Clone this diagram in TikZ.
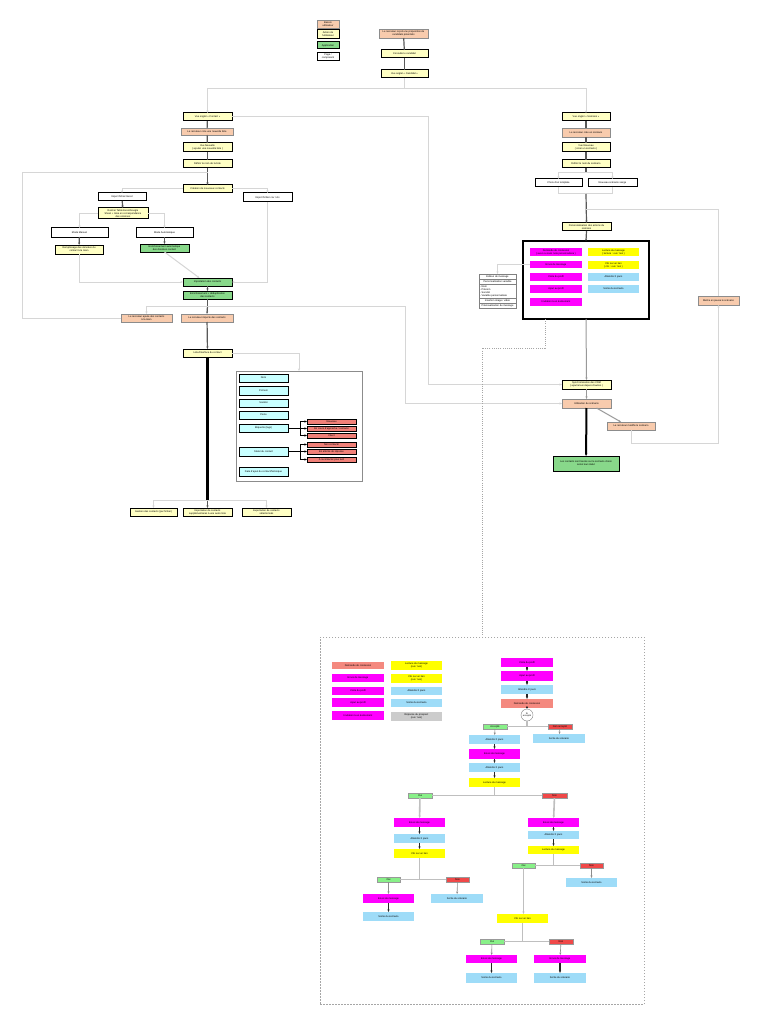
\documentclass[tikz,border=0pt]{standalone}
\usepackage{fontspec}
\setmainfont{Liberation Sans}
\usetikzlibrary{arrows.meta,calc}
\definecolor{cOr}{HTML}{F8CBAD}
\definecolor{cYl}{HTML}{FFFFC4}
\definecolor{cGr}{HTML}{88D88A}
\definecolor{cCy}{HTML}{C8FFFF}
\definecolor{cRd}{HTML}{F08078}
\definecolor{cMg}{HTML}{FF00FF}
\definecolor{cYb}{HTML}{FFFF00}
\definecolor{cBl}{HTML}{9EDCF8}
\definecolor{cSa}{HTML}{F4897F}
\definecolor{cGy}{HTML}{CCCCCC}
\definecolor{cOk}{HTML}{88F088}
\definecolor{cNo}{HTML}{F04848}
\newcommand{\B}[7]{%
 \pgfmathsetmacro\mybw{#5-#3}\pgfmathsetmacro\mybh{#6-#4}%
 \pgfmathsetmacro\mybx{(#3+#5)/2}\pgfmathsetmacro\myby{(#4+#6)/2}%
 \node[#2,minimum width=\mybw pt,minimum height=\mybh pt] (#1) at (\mybx,\myby) {#7};}
\tikzset{
 box/.style={inner sep=0pt,outer sep=0pt,align=center,font=\fontsize{2.5}{3}\selectfont},
 ob/.style={box,fill=cOr,draw=black!45,line width=0.8},
 yb/.style={box,fill=cYl,draw=black,line width=1},
 gb/.style={box,fill=cGr,draw=black,line width=1},
 wb/.style={box,fill=white,draw=black,line width=1},
 cb/.style={box,fill=cCy,draw=black,line width=1},
 rb/.style={box,fill=cRd,draw=black,line width=1},
 mb/.style={box,fill=cMg},
 ybb/.style={box,fill=cYb},
 bb/.style={box,fill=cBl},
 sb/.style={box,fill=cSa},
 gyb/.style={box,fill=cGy},
 okb/.style={box,fill=cOk,draw=black!40,line width=0.8},
 nob/.style={box,fill=cNo,draw=black!40,line width=0.8},
 edb/.style={box,fill=white,draw=black!50,line width=0.5},
 framebox/.style={box,draw=black!45,line width=1},
 bigframe/.style={box,draw=black,line width=1.3},
 dframe/.style={box,draw=black!35,line width=0.6,dash pattern=on 1.5pt off 1.5pt},
 con/.style={draw=black!65,line width=1.2},
 lcon/.style={draw=black!16,line width=1},
 gcon/.style={draw=black!25,line width=1.6},
 tcon/.style={draw=black,line width=0.6},
 bcon/.style={draw=black!85,line width=1.2},
 blk/.style={draw=black,line width=2.5},
 dcon/.style={draw=black!35,line width=0.6,dash pattern=on 1pt off 1.2pt},
 arr/.style={-{Stealth[length=2.5pt,width=2pt]}},
}
\begin{document}
\begin{tikzpicture}[x=1pt,y=-1pt]
\fill[white] (0,0) rectangle (768,1024);
\useasboundingbox (0,0) rectangle (768,1024);

% legend
\B{lg1}{ob}{317}{20}{339}{28}{Besoin\\utilisateur}
\B{lg2}{yb}{317}{30}{339}{39}{Action de\\l'utilisateur}
\B{lg3}{gb}{317}{42}{339}{49}{Application}
\B{lg4}{wb,line width=0.8}{317}{52}{339}{60}{Page /\\composant}

% top chain
\B{t1}{ob}{379}{29}{428}{38}{Le recruteur reçoit une proposition de\\candidats potentiels}
\B{t2}{yb}{381}{50}{428}{58}{Consulte le candidat}
\B{t3}{yb}{381}{70}{428}{78}{Vue onglet « Candidat »}
\coordinate (j0) at (404.5,89);
\draw[con] (t1) -- (t2);
\draw[con] (t2) -- (t3);
\draw[lcon] (t3) -- (j0);

% left chain
\B{L1}{yb}{183}{113}{232}{121}{Vue onglet « Contact »}
\B{L2}{ob}{181}{128}{233}{135}{Le recruteur crée une nouvelle liste}
\B{L3}{yb}{183}{143}{232}{152}{Vue Nouvelle\\( ajouter une nouvelle liste )}
\B{L4}{yb}{183}{160}{232}{168}{Définir le nom de la liste}
\B{L5}{yb}{183}{185}{232}{193}{Création de nouveaux contacts}
\B{W1}{wb}{98}{193}{146}{201}{Import fichier Excel}
\B{W2}{wb}{243}{193}{292}{202}{Import fichier csv / xls}
\B{Y1}{yb}{98}{208}{148}{219}{Rentrer Table Excel/Google\\Sheet + mise en correspondance\\des colonnes}
\B{M1}{wb}{51}{228}{108}{237}{Mode Manuel}
\B{M2}{wb}{136}{228}{193}{237}{Mode Automatique}
\B{Y2}{yb}{55}{245}{103}{254}{Remplissage des données du\\contact à la main}
\B{G0}{gb}{140}{244}{189}{252}{Enrichissement automatique\\des données contact}
\B{G1}{gb}{183}{278}{232}{286}{Importation des contacts}
\B{G2}{gb}{183}{291}{232}{299}{Enrichissement + déduplication\\des contacts}
\B{O1}{ob}{121}{314}{172}{322}{Le recruteur ajoute des contacts\\à la main}
\B{O2}{ob}{181}{314}{233}{322}{Le recruteur importe des contacts}
\B{LI}{yb}{183}{349}{232}{357}{Liste/Interface du contact}
\B{FR}{framebox}{236}{371}{362}{481}{}
\B{C1}{cb}{239}{374}{288}{382}{Nom}
\B{C2}{cb}{239}{386}{288}{395}{Prénom}
\B{C3}{cb}{239}{399}{288}{407}{Société}
\B{C4}{cb}{239}{411}{288}{419}{Poste}
\B{C5}{cb}{239}{424}{288}{432}{Étiquette (tags)}
\B{C6}{cb}{239}{447}{288}{456}{Statut du contact}
\B{C7}{cb}{239}{467}{288}{476}{Date d'ajout du contact/historique}
\B{Rd1}{rb}{307}{419}{356}{424}{Nouveau}
\B{Rd2}{rb}{307}{426}{356}{431}{En cours d'approche / contacté}
\B{Rd3}{rb}{307}{433}{356}{438}{Client}
\B{Rd4}{rb}{307}{442}{356}{447}{Non contacté}
\B{Rd5}{rb}{307}{449}{356}{454}{En attente de réponse}
\B{Rd6}{rb}{307}{457}{356}{462}{A recontacter plus tard}
\B{B1}{yb}{130}{508}{177}{516}{Gestion des contacts (par fichier)}
\B{B2}{yb}{183}{508}{232}{516}{Importation de contacts\\supplémentaires à une autre liste}
\B{B3}{yb}{242}{508}{291}{516}{Exportation de contacts\\sélectionnés}

\draw[lcon,arr] (j0) -| (L1.north);
\draw[con] (L1) -- (L2);
\draw[con] (L2) -- (L3);
\draw[con] (L3) -- (L4);
\coordinate (j1) at (207.5,173);
\coordinate (lp) at (22,173);
\draw[con,arr] (L4.south) -- (L5.north);
\draw[lcon] (O1.west) -| (lp) -- (j1);
\draw[lcon,arr] (L5.west) -| (W1.north);
\draw[lcon,arr] (L5.east) -| (W2.north);
\draw[con,arr] (W1) -- (Y1);
\draw[lcon,arr] (Y1.west) -| (M1.north);
\draw[lcon,arr] (Y1.east) -| (M2.north);
\draw[con,arr] (M1) -- (Y2);
\draw[con,arr] (M2) -- (G0);
\draw[lcon,arr] (Y2.south) |- (G1.west);
\draw[lcon,arr] (G0.south) -- ($(G1.north)+(-8,0)$);
\draw[lcon,arr] (W2.south) |- (G1.east);
\draw[con,arr] (G1) -- (G2);
\coordinate (j2) at (207.5,306);
\coordinate (j3) at (405,306);
\draw[con] (G2.south) -- (j2);
\draw[con,arr] (j2) -- (O2.north);
\draw[lcon,arr] (j2) -| (O1.north);
\draw[con,arr] (O2) -- (LI);
\draw[lcon,arr] (LI.east) -| (FR.north);
\coordinate (j4) at (207.5,500);
\draw[blk] (LI.south) -- (j4);
\draw[con,arr] (j4) -- (B2.north);
\draw[lcon,arr] (j4) -| (B1.north);
\draw[lcon,arr] (j4) -| (B3.north);
\coordinate (k1) at (300,428);
\coordinate (k2) at (300,451.5);
\draw[tcon] (C5.east) -- (k1);
\draw[tcon,arr] (k1) |- (Rd1.west);
\draw[tcon,arr] (k1) |- (Rd2.west);
\draw[tcon,arr] (k1) |- (Rd3.west);
\draw[tcon] (C6.east) -- (k2);
\draw[tcon,arr] (k2) |- (Rd4.west);
\draw[tcon,arr] (k2) |- (Rd5.west);
\draw[tcon,arr] (k2) |- (Rd6.west);

% right chain
\B{R1}{yb}{562}{113}{610}{121}{Vue onglet « Scénario »}
\B{R2}{ob}{562}{128}{610}{137}{Le recruteur crée un scénario}
\B{R3}{yb}{562}{143}{610}{152}{Vue Nouveau\\( créer un scénario )}
\B{R4}{yb}{562}{160}{610}{168}{Définir le nom du scénario}
\B{S1}{wb}{535}{179}{582}{187}{Choix d'un template}
\B{S2}{wb}{588}{179}{637}{187}{Nouveau scénario vierge}
\B{P}{yb}{562}{223}{611}{231}{Personnalisation des actions du\\scénario}
\B{FRR}{bigframe}{523}{241}{649}{319}{}
\B{MG1}{mb}{530}{248}{582}{256}{Demande de connexion\\( avec ou sans note personnalisée )}
\B{MG2}{mb}{530}{261}{582}{268}{Envoi de message}
\B{MG3}{mb}{530}{273}{582}{281}{Visite du profil}
\B{MG4}{mb}{530}{285}{582}{293}{Ajout au profil}
\B{MG5}{mb}{530}{298}{582}{306}{Invitation à un événement}
\B{YW1}{ybb}{588}{248}{639}{256}{Lecture du message\\( lecture : oui / non )}
\B{YW2}{ybb}{588}{261}{639}{269}{Clic sur un lien\\( clic : oui / non )}
\B{BL1}{bb}{588}{273}{639}{281}{Attendre X jours}
\B{BL2}{bb}{588}{285}{639}{293}{Sortie du scénario}
\B{ED1}{edb}{479}{274}{516}{279}{Éditeur de message}
\B{ED2}{edb}{479}{279}{516}{284}{Personnalisation variable}
\B{ED3}{edb,align=left,text width=35pt}{479}{284}{516}{298}{- Nom\\- Prénom\\- Société\\- Variable personnalisée}
\B{ED4}{edb}{479}{298}{516}{303}{Insertion image / vidéo}
\B{ED5}{edb}{479}{303}{516}{308}{Prévisualisation du message}
\B{CRM}{yb}{562}{380}{611}{389}{Synchronisation des CRM\\( ajout/envoi depuis d'autres )}
\B{U}{ob}{562}{399}{611}{408}{Utilisation du scénario}
\B{MOD}{ob}{607}{422}{655}{430}{Le recruteur modifie le scénario}
\B{GF}{gb}{553}{456}{619}{471}{Les contacts sont lancés sur le scénario choisi\\selon leur statut}
\B{PA}{ob}{698}{296}{739}{305}{Mettre en pause le scénario}

\draw[lcon,arr] (j0) -| (R1.north);
\draw[con] (R1) -- (R2);
\draw[con] (R2) -- (R3);
\draw[con] (R3) -- (R4);
\coordinate (j5) at (586,173);
\coordinate (j6) at (586,194);
\coordinate (j7) at (586,210);
\draw[con] (R4.south) -- (j5);
\draw[lcon,arr] (j5) -| (S1.north);
\draw[lcon,arr] (j5) -| (S2.north);
\draw[lcon] (S1.south) |- (j6);
\draw[lcon] (S2.south) |- (j6);
\draw[con,arr] (j6) -- (P.north);
\draw[lcon] (PA.north) |- (j7);
\draw[con,arr] (P.south) -- (FRR.north);
\draw[lcon,arr] (MG2.west) -| (ED1.north);
\draw[con,draw=black!40,line width=1,arr] (FRR.south) -- (CRM.north);
\draw[con,draw=black!40,line width=1,arr] (CRM) -- (U);
\draw[blk,line width=2,arr] (U) -- (GF);
\draw[lcon,draw=black!40,arr] ($(U.south)+(10,0)$) -- ($(MOD.north)+(-10,0)$);
\draw[lcon,arr] (MOD.south) -- ++(0,13) -| (PA.south);
\coordinate (j9) at (428,117);
\draw[lcon,arr] (L1.east) -- (j9) |- (CRM.west);
\draw[lcon,arr] (j2) -- (j3) |- (U.west);

% bottom frame
\B{BF}{dframe}{320}{637}{644}{1004}{}
\coordinate (d1) at (545,319);
\coordinate (d2) at (545,348);
\coordinate (d3) at (482,348);
\draw[dcon] (d1) -- (d2) -- (d3) -- (BF.north);

% bottom legend
\B{K1}{sb}{332}{662}{384}{669}{Demande de connexion}
\B{K2}{mb}{332}{674}{384}{682}{Envoi de message}
\B{K3}{mb}{332}{687}{384}{695}{Visite du profil}
\B{K4}{mb}{332}{698}{384}{707}{Ajout au profil}
\B{K5}{mb}{332}{711}{384}{720}{Invitation à un événement}
\B{K6}{ybb}{391}{661}{442}{670}{Lecture du message\\(oui / non)}
\B{K7}{ybb}{391}{674}{442}{683}{Clic sur un lien\\(oui / non)}
\B{K8}{bb}{391}{687}{442}{695}{Attendre X jours}
\B{K9}{bb}{391}{699}{442}{707}{Sortie du scénario}
\B{K10}{gyb}{391}{712}{442}{721}{Réponse du prospect\\(oui / non)}

% bottom flow
\B{F1}{mb}{501}{658}{553}{667}{Visite du profil}
\B{F2}{mb}{501}{671}{553}{681}{Ajout au profil}
\B{F3}{bb}{501}{685}{553}{694}{Attendre X jours}
\B{F4}{sb}{501}{699}{553}{708}{Demande de connexion}
\node[circle,draw=black!50,fill=white,minimum size=12pt,inner sep=0pt,align=center,font=\fontsize{2.3}{2.6}\selectfont] (Q) at (527,715) {Si\\accepté};
\B{A1}{okb}{483}{724}{507}{729}{Accepté}
\B{A2}{nob}{548}{724}{572}{729}{Non accepté}
\B{F5}{bb}{469}{735}{520}{744}{Attendre X jours}
\B{F6}{bb}{533}{734}{585}{743}{Sortie du scénario}
\B{F7}{mb}{469}{749}{520}{759}{Envoi de message}
\B{F8}{bb}{469}{763}{520}{772}{Attendre X jours}
\B{F9}{ybb}{469}{778}{520}{787}{Lecture du message}
\B{A3}{okb}{408}{793}{432}{798}{Oui}
\B{A4}{nob}{542}{793}{567}{798}{Non}
\B{F10}{mb}{394}{818}{445}{827}{Envoi de message}
\B{F11}{bb}{394}{834}{445}{843}{Attendre X jours}
\B{F12}{ybb}{394}{849}{445}{858}{Clic sur un lien}
\B{A5}{okb}{377}{877}{400}{882}{Oui}
\B{A6}{nob}{446}{877}{469}{882}{Non}
\B{F13}{mb}{363}{894}{414}{903}{Envoi de message}
\B{F14}{bb}{363}{912}{414}{921}{Sortie du scénario}
\B{F15}{bb}{431}{894}{483}{903}{Sortie du scénario}
\B{F16}{mb}{528}{818}{579}{827}{Envoi de message}
\B{F17}{bb}{528}{831}{579}{839}{Attendre X jours}
\B{F18}{ybb}{528}{846}{579}{854}{Lecture du message}
\B{A7}{okb}{512}{863}{535}{868}{Oui}
\B{A8}{nob}{580}{863}{603}{868}{Non}
\B{F19}{bb}{566}{878}{617}{887}{Sortie du scénario}
\B{F20}{ybb}{497}{914}{548}{923}{Clic sur un lien}
\B{A9}{okb}{480}{939}{504}{944}{Oui}
\B{A10}{nob}{549}{939}{573}{944}{Non}
\B{F21}{mb}{466}{955}{517}{963}{Envoi de message}
\B{F22}{bb}{466}{973}{517}{983}{Sortie du scénario}
\B{F23}{mb}{534}{955}{586}{963}{Envoi de message}
\B{F24}{bb}{534}{973}{586}{983}{Sortie du scénario}

\draw[bcon,arr] (F1) -- (F2);
\draw[bcon,arr] (F2) -- (F3);
\draw[bcon,arr] (F3) -- (F4);
\draw[bcon,arr] (F4) -- (Q);
\draw[gcon] (A1.east) -- (A2.west);
\draw[gcon] (Q.south) -- (Q.south |- A1.east);
\draw[lcon,draw=black!45,line width=0.6,arr] (A1) -- (F5);
\draw[lcon,draw=black!45,line width=0.6,arr] (A2) -- (F6);
\draw[bcon,arr] (F5) -- (F7);
\draw[bcon,arr] (F7) -- (F8);
\draw[bcon,arr] (F8) -- (F9);
\draw[gcon] (A3.east) -- (A4.west);
\draw[gcon] (F9.south) -- (F9.south |- A3.east);
\draw[gcon,arr] (A3) -- (F10);
\draw[gcon,arr] (A4) -- (F16);
\draw[bcon,arr] (F10) -- (F11);
\draw[bcon,arr] (F11) -- (F12);
\draw[gcon] (A5.east) -- (A6.west);
\draw[gcon] (F12.south) -- (F12.south |- A5.east);
\draw[lcon,draw=black!45,line width=0.6,arr] (A5) -- (F13);
\draw[lcon,draw=black!45,line width=0.6,arr] (A6) -- (F15);
\draw[bcon,arr] (F13) -- (F14);
\draw[bcon,arr] (F16) -- (F17);
\draw[bcon,arr] (F17) -- (F18);
\draw[gcon] (A7.east) -- (A8.west);
\draw[gcon] (F18.south) -- (F18.south |- A7.east);
\draw[lcon,draw=black!45,line width=0.6,arr] (A8) -- (F19);
\draw[gcon,arr] (A7) -- (A7 |- F20.north);
\draw[gcon] (A9.east) -- (A10.west);
\draw[gcon] (F20.south) -- (F20.south |- A9.east);
\draw[lcon,draw=black!45,line width=0.6,arr] (A9) -- (F21);
\draw[lcon,draw=black!45,line width=0.6,arr] (A10) -- (F23);
\draw[bcon,arr] (F21) -- (F22);
\draw[bcon,arr] (F23) -- (F24);
\end{tikzpicture}
\end{document}
